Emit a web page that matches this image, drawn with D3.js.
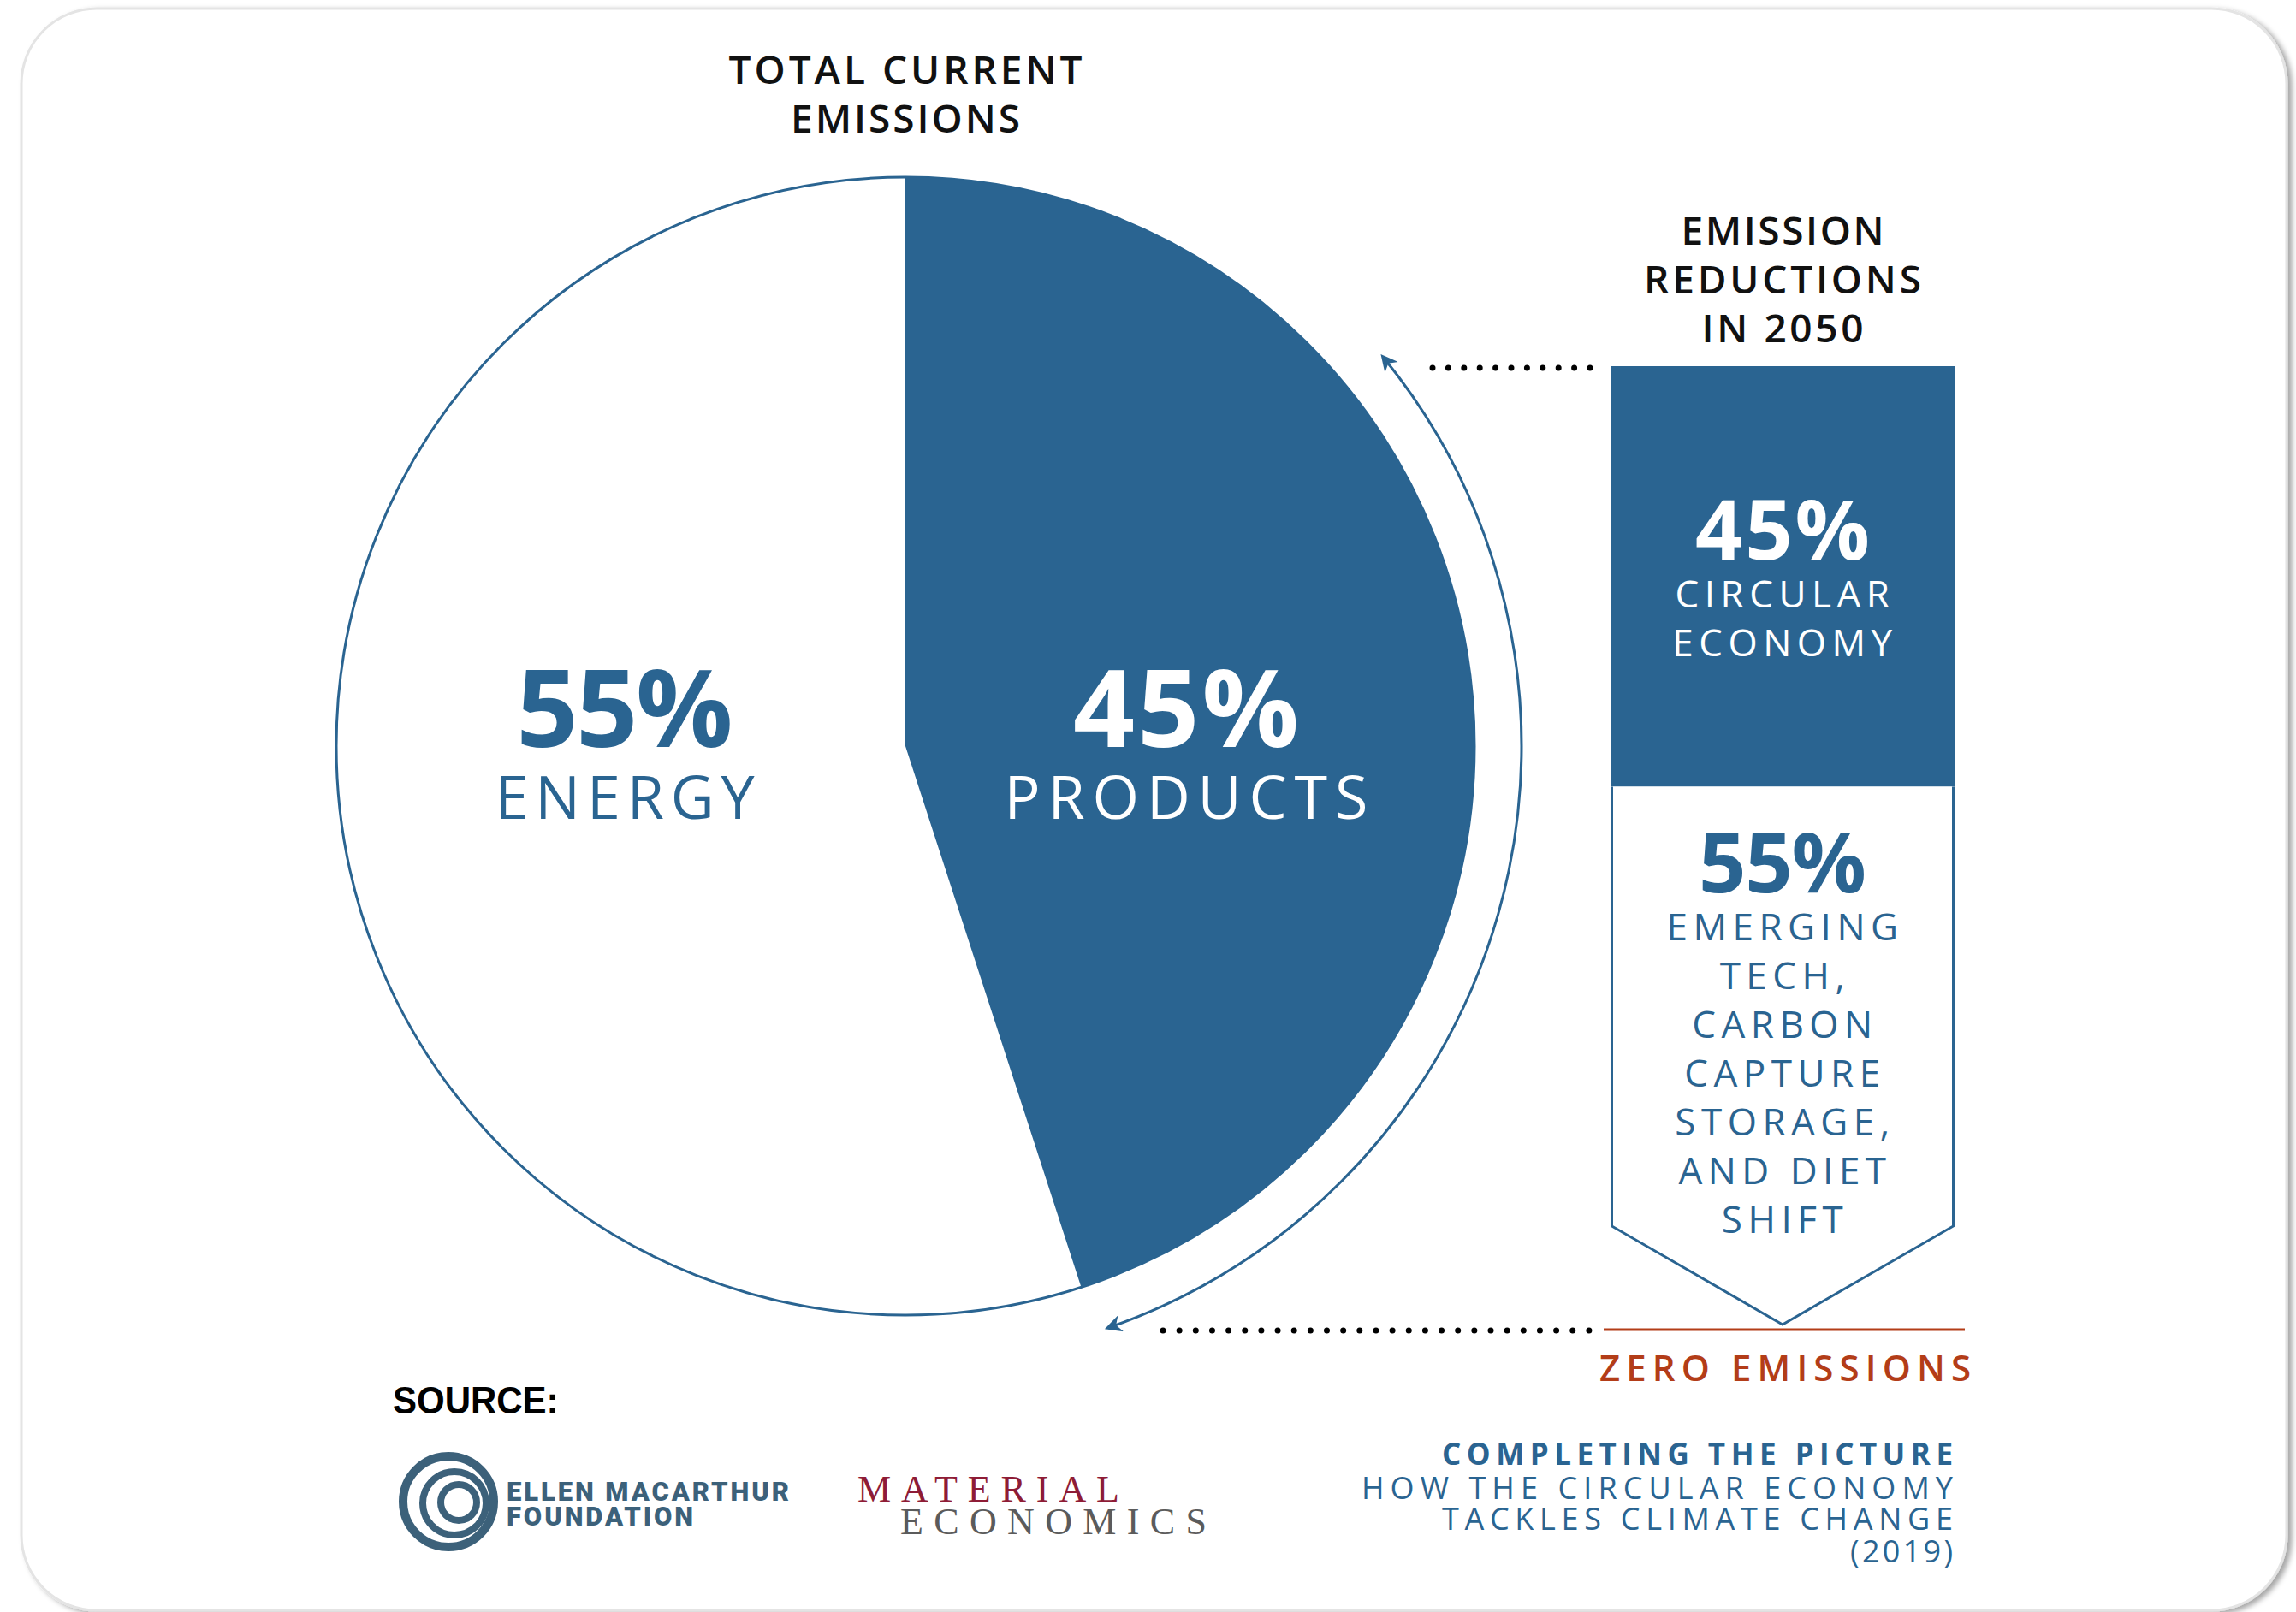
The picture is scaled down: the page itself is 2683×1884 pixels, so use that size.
<!DOCTYPE html>
<html>
<head>
<meta charset="utf-8">
<script src="https://cdn.jsdelivr.net/npm/d3@7"></script>
<style>
  html, body { margin: 0; padding: 0; background: #fff; }
  svg { display: block; font-family: "Open Sans", "Noto Sans", sans-serif; }
</style>
</head>
<body>
<script>
// total current emissions, percent
var currentLabels = ["PRODUCTS", "ENERGY"];
var currentValues = [45, 55];

// emission reductions in 2050, percent (top to bottom)
var reductionValues = [45, 55];
var reductionLabels = [
  ["CIRCULAR", "ECONOMY"],
  ["EMERGING", "TECH,", "CARBON", "CAPTURE", "STORAGE,", "AND DIET", "SHIFT"]
];

var leftTitle = ["TOTAL CURRENT", "EMISSIONS"];
var rightTitle = ["EMISSION", "REDUCTIONS", "IN 2050"];
var zeroLabel = "ZERO EMISSIONS";
var reportLines = ["COMPLETING THE PICTURE", "HOW THE CIRCULAR ECONOMY", "TACKLES CLIMATE CHANGE", "(2019)"];

var width = 2683, height = 1884;
var blue = "#2a6491", orange = "#b33d18";

var svg = d3.select("body").append("svg")
    .attr("width", width)
    .attr("height", height);

// card shadow
var defs = svg.append("defs");
var f = defs.append("filter").attr("id", "shadow")
    .attr("x", "-5%").attr("y", "-5%").attr("width", "110%").attr("height", "110%");
f.append("feDropShadow").attr("dx", 5).attr("dy", 3).attr("stdDeviation", 3)
    .attr("flood-color", "#000").attr("flood-opacity", 0.35);

// arrowhead
defs.append("marker")
    .attr("id", "head")
    .attr("viewBox", "0 0 10 10")
    .attr("refX", 8).attr("refY", 5)
    .attr("markerUnits", "userSpaceOnUse")
    .attr("markerWidth", 24).attr("markerHeight", 20)
    .attr("orient", "auto-start-reverse")
  .append("path")
    .attr("d", "M0,0 L10,5 L0,10 L3,5 Z")
    .attr("fill", blue);

svg.append("rect")
    .attr("x", 25).attr("y", 10)
    .attr("width", 2647).attr("height", 1872)
    .attr("rx", 88).attr("ry", 88)
    .attr("fill", "#fff")
    .attr("stroke", "#e4e4e4")
    .attr("stroke-width", 3)
    .attr("filter", "url(#shadow)");

// helper: stretch a text to a measured width
function fit(sel, w) {
  return sel.attr("textLength", w).attr("lengthAdjust", "spacing");
}

// ---- pie ----
var cx = 1058, cy = 872, R = 665;
var pieData = currentLabels.map(function(d, i) { return {label: d, value: currentValues[i]}; });
var pie = d3.pie().sort(null).value(function(d) { return d.value; });
var arcs = pie(pieData);
var arc = d3.arc().innerRadius(0).outerRadius(R);

var pg = svg.append("g").attr("transform", "translate(" + cx + "," + cy + ")");

pg.append("circle")
    .attr("r", R)
    .attr("fill", "#fff")
    .attr("stroke", blue)
    .attr("stroke-width", 3);

pg.selectAll("path.slice")
  .data(arcs)
  .enter().append("path")
    .attr("class", "slice")
    .attr("d", arc)
    .attr("fill", function(d, i) { return i === 0 ? blue : "none"; });

var pctWidths = [264, 253], nameWidths = [425, 303];
arcs.forEach(function(d, i) {
  var mid = (d.startAngle + d.endAngle) / 2;
  var lx = Math.sin(mid) * 332;
  var col = i === 0 ? "#fff" : blue;
  fit(pg.append("text")
      .attr("x", lx).attr("y", 1)
      .attr("text-anchor", "middle")
      .attr("font-size", 126).attr("font-weight", 700)
      .attr("fill", col)
      .text(d.data.value + "%"), pctWidths[i]);
  fit(pg.append("text")
      .attr("x", lx).attr("y", 85)
      .attr("text-anchor", "middle")
      .attr("font-size", 70).attr("font-weight", 400)
      .attr("fill", col)
      .text(d.data.label), nameWidths[i]);
});

// left title
var ltW = [413, 268];
leftTitle.forEach(function(t, i) {
  fit(svg.append("text")
      .attr("x", cx).attr("y", 98 + i * 57)
      .attr("text-anchor", "middle")
      .attr("font-size", 46).attr("font-weight", 600)
      .attr("fill", "#111")
      .text(t), ltW[i]);
});

// ---- reduction bar ----
var bx0 = 1882, bx1 = 2284, bxm = (bx0 + bx1) / 2;
var y = d3.scaleLinear().domain([0, 100]).range([1520, 428]);

var stack = [];
var acc = 100;
reductionValues.forEach(function(v, i) {
  stack.push({value: v, top: acc, bottom: acc - v, lines: reductionLabels[i]});
  acc -= v;
});

// first segment: filled block
svg.append("rect")
    .attr("x", bx0).attr("y", y(stack[0].top))
    .attr("width", bx1 - bx0)
    .attr("height", y(stack[0].bottom) - y(stack[0].top))
    .attr("fill", blue);

// second segment: outlined chevron down to zero
var yb = y(stack[1].bottom);
var chev = d3.path();
chev.moveTo(bx0 + 1.5, y(stack[1].top));
chev.lineTo(bx0 + 1.5, yb - 87);
chev.lineTo(bxm, yb + 28);
chev.lineTo(bx1 - 1.5, yb - 87);
chev.lineTo(bx1 - 1.5, y(stack[1].top));
svg.append("path")
    .attr("d", chev.toString())
    .attr("fill", "#fff")
    .attr("stroke", blue)
    .attr("stroke-width", 3);

var barPctW = [204, 196], blockShift = [2, -13];
stack.forEach(function(s, i) {
  var n = s.lines.length;
  var blockH = 70 + 56 + 57 * (n - 1);
  var midY = (y(s.top) + y(s.bottom)) / 2 + blockShift[i];
  var base = midY - blockH / 2 + 70;
  var col = i === 0 ? "#fff" : blue;
  fit(svg.append("text")
      .attr("x", bxm).attr("y", base)
      .attr("text-anchor", "middle")
      .attr("font-size", 97).attr("font-weight", 700)
      .attr("fill", col)
      .text(s.value + "%"), barPctW[i]);
  s.lines.forEach(function(l, j) {
    svg.append("text")
        .attr("x", bxm + 3).attr("y", base + 56 + j * 57)
        .attr("text-anchor", "middle")
        .attr("font-size", 44).attr("font-weight", 400)
        .attr("letter-spacing", 6.5)
        .attr("fill", col)
        .text(l);
  });
});

// right title
var rtW = [237, 324, 189];
rightTitle.forEach(function(t, i) {
  fit(svg.append("text")
      .attr("x", bxm).attr("y", 286 + i * 57)
      .attr("text-anchor", "middle")
      .attr("font-size", 46).attr("font-weight", 600)
      .attr("fill", "#111")
      .text(t), rtW[i]);
});

// dotted connectors
svg.append("line")
    .attr("x1", 1674).attr("x2", 1858)
    .attr("y1", y(100) + 2).attr("y2", y(100) + 2)
    .attr("stroke", "#000").attr("stroke-width", 7)
    .attr("stroke-linecap", "round")
    .attr("stroke-dasharray", "0 18.4");
svg.append("line")
    .attr("x1", 1359).attr("x2", 1857)
    .attr("y1", 1555).attr("y2", 1555)
    .attr("stroke", "#000").attr("stroke-width", 7)
    .attr("stroke-linecap", "round")
    .attr("stroke-dasharray", "0 19.15");

// zero line
svg.append("line")
    .attr("x1", 1874).attr("x2", 2296)
    .attr("y1", 1554).attr("y2", 1554)
    .attr("stroke", orange).attr("stroke-width", 3);
fit(svg.append("text")
    .attr("x", 2086).attr("y", 1614)
    .attr("text-anchor", "middle")
    .attr("font-size", 42).attr("font-weight", 600)
    .attr("fill", orange)
    .text(zeroLabel), 434);

// curved double arrow round the pie
var ar = 720;
var a0 = Math.acos((cy - 417) / ar), a1 = Math.acos((cy - 1552) / ar);
var ap = d3.path();
ap.arc(cx, cy, ar, a0 - Math.PI / 2, a1 - Math.PI / 2);
svg.append("path")
    .attr("d", ap.toString())
    .attr("fill", "none")
    .attr("stroke", blue)
    .attr("stroke-width", 3)
    .attr("marker-start", "url(#head)")
    .attr("marker-end", "url(#head)");

// ---- source block ----
svg.append("text")
    .attr("x", 459).attr("y", 1652)
    .style("font-family", "'Liberation Sans', Arial, sans-serif")
    .attr("font-size", 42).attr("font-weight", 700)
    .attr("fill", "#000")
    .attr("transform", "translate(459,1652) scale(1,1.05) translate(-459,-1652)")
    .text("SOURCE:");

var slate = "#3c617a";
var logo = svg.append("g");
[[524, 1755, 53, 10], [531, 1757, 37, 8], [536, 1756, 21, 8]].forEach(function(c) {
  logo.append("circle")
      .attr("cx", c[0]).attr("cy", c[1]).attr("r", c[2])
      .attr("fill", "none").attr("stroke", slate).attr("stroke-width", c[3]);
});
fit(logo.append("text")
    .attr("x", 592).attr("y", 1754)
    .style("font-family", "Roboto, sans-serif")
    .attr("font-size", 31).attr("font-weight", 900)
    .attr("fill", slate)
    .text("ELLEN MACARTHUR"), 330);
fit(logo.append("text")
    .attr("x", 592).attr("y", 1783)
    .style("font-family", "Roboto, sans-serif")
    .attr("font-size", 31).attr("font-weight", 900)
    .attr("fill", slate)
    .text("FOUNDATION"), 218);

fit(svg.append("text")
    .attr("x", 1002).attr("y", 1755)
    .style("font-family", "'Liberation Serif', serif")
    .attr("font-size", 44)
    .attr("fill", "#8e1c36")
    .text("MATERIAL"), 306);
fit(svg.append("text")
    .attr("x", 1052).attr("y", 1793)
    .style("font-family", "'Liberation Serif', serif")
    .attr("font-size", 44)
    .attr("fill", "#5b5b5b")
    .text("ECONOMICS"), 358);

// report reference
var rpBase = [1712, 1752, 1788, 1826], rpW = [597, 691, 597, 120];
reportLines.forEach(function(t, i) {
  fit(svg.append("text")
      .attr("x", 2282).attr("y", rpBase[i])
      .attr("text-anchor", "end")
      .attr("font-size", i === 0 ? 35 : 36)
      .attr("font-weight", i === 0 ? 700 : 400)
      .attr("fill", blue)
      .text(t), rpW[i]);
});
</script>
</body>
</html>
